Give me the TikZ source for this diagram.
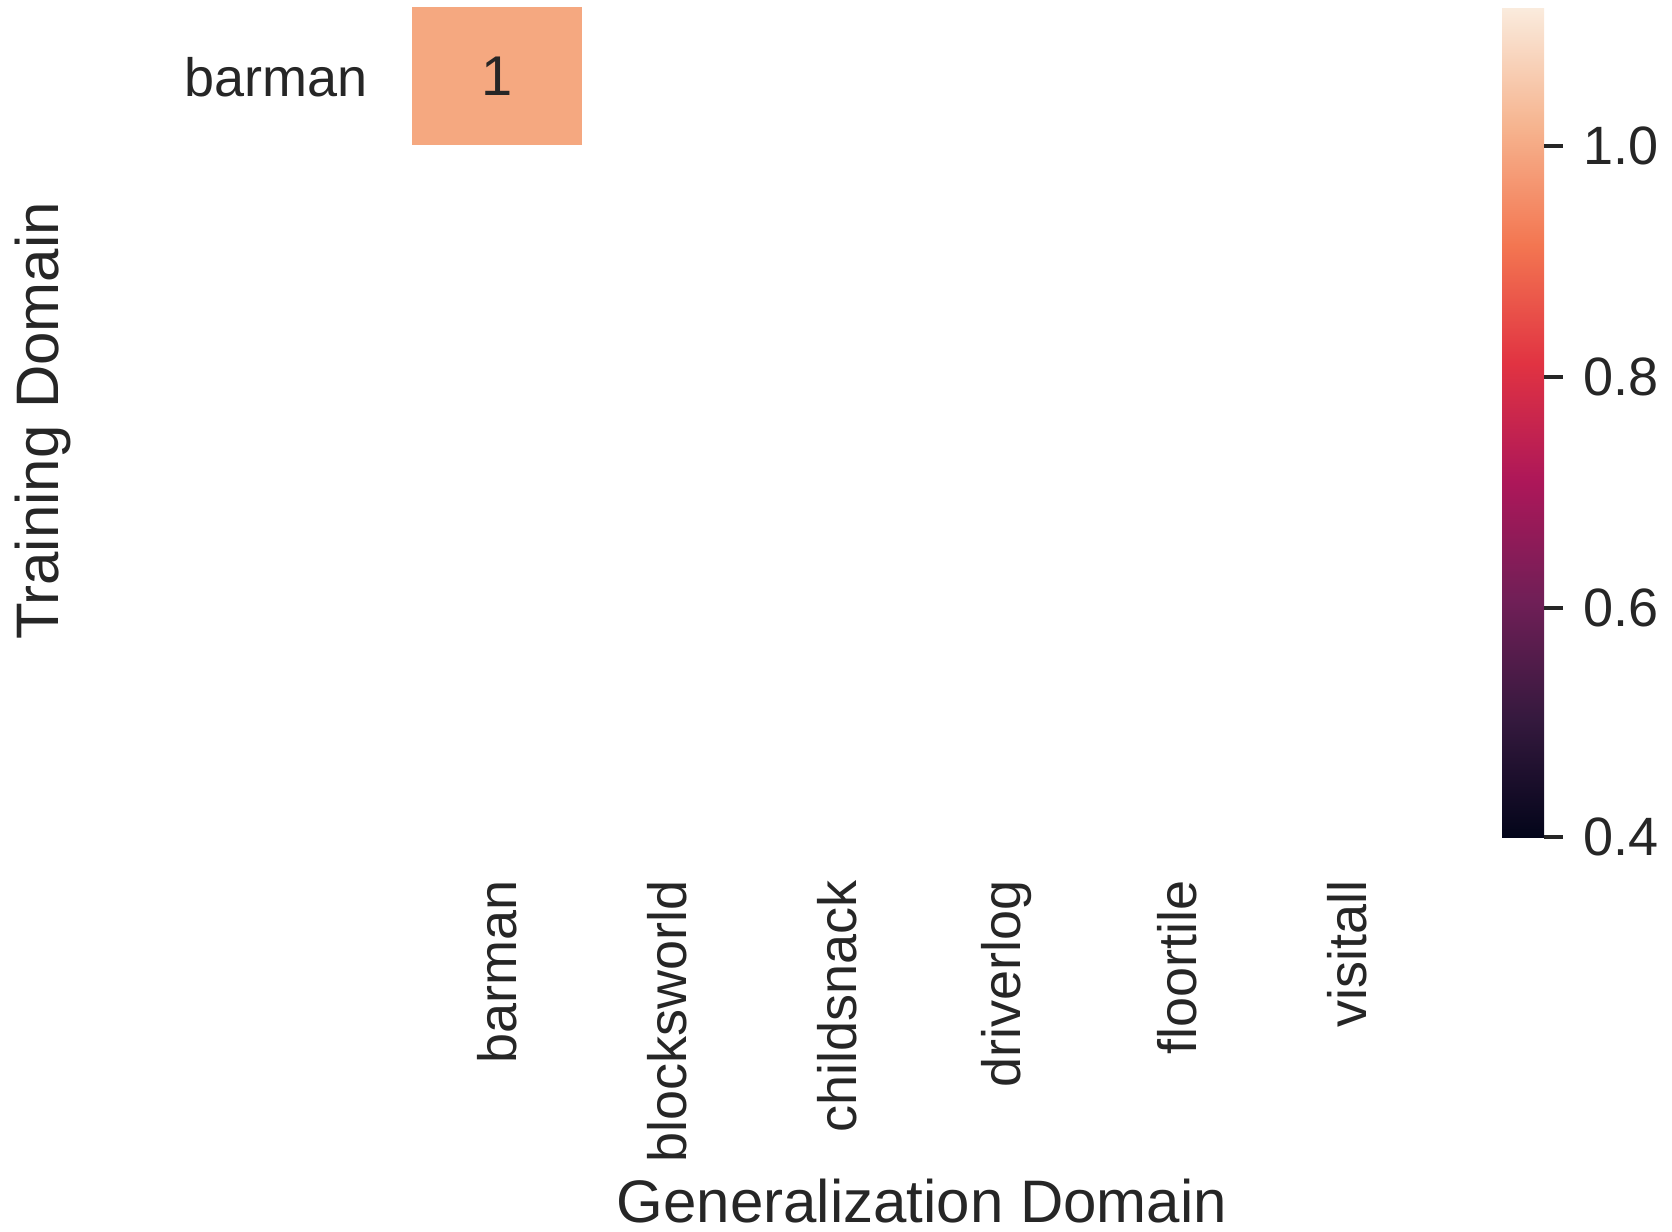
\documentclass[tikz,border=0pt]{standalone}
\usepackage{fontspec}
\setmainfont{Liberation Sans}
\usetikzlibrary{positioning}

% rocket colour map stops
\definecolor{rk0}{HTML}{03051A}
\definecolor{rk1}{HTML}{35193E}
\definecolor{rk2}{HTML}{701F57}
\definecolor{rk3}{HTML}{AD1759}
\definecolor{rk4}{HTML}{E13342}
\definecolor{rk5}{HTML}{F37651}
\definecolor{rk6}{HTML}{F6B48F}
\definecolor{rk7}{HTML}{FAEBDD}
\definecolor{cellfill}{RGB}{245,168,128}
\definecolor{ink}{HTML}{262626}

% bar runs from 0.4 (bottom) to 1.12 (top); inner band 25bp..75bp spans the bar
\pgfdeclareverticalshading{rocketbar}{100bp}{%
  color(0bp)=(rk0); color(25bp)=(rk0);
  color(32.14bp)=(rk1); color(39.29bp)=(rk2); color(46.43bp)=(rk3);
  color(53.57bp)=(rk4); color(60.71bp)=(rk5); color(67.86bp)=(rk6);
  color(75bp)=(rk7); color(100bp)=(rk7)}

\tikzset{
  ticklab/.style={font=\fontsize{27pt}{32pt}\selectfont, text=ink, inner sep=0pt},
  axlab/.style={font=\fontsize{30pt}{36pt}\selectfont, text=ink, inner sep=0pt},
  cellbox/.style={fill=cellfill, minimum width=85pt, minimum height=69pt,
    inner sep=0pt, font=\fontsize{28pt}{33pt}\selectfont, text=ink},
  cbtick/.style={draw=ink, line width=2pt},
}

\begin{document}
\begin{tikzpicture}[x=0.5pt, y=-0.5pt]
  \useasboundingbox (0,0) rectangle (1672,1232);

  % heat map cell
  \node[cellbox] (c11) at (497,76) {1};

  % row label
  \node[ticklab, anchor=east] (rbarman) at (368,77) {barman};

  % column labels
  \node[ticklab, rotate=90, anchor=east] (xbarman) at (497,880) {barman};
  \node[ticklab, rotate=90, anchor=east] (xblocks) at (667,880) {blocksworld};
  \node[ticklab, rotate=90, anchor=east] (xchild) at (837,880) {childsnack};
  \node[ticklab, rotate=90, anchor=east] (xdriver) at (1007,880) {driverlog};
  \node[ticklab, rotate=90, anchor=east] (xfloor) at (1177,880) {floortile};
  \node[ticklab, rotate=90, anchor=east] (xvisit) at (1347,880) {visitall};

  % axis titles
  \node[axlab, anchor=base] (xtitle) at (922,1222) {Generalization Domain};
  \node[axlab, rotate=90, anchor=base] (ytitle) at (58,421) {Training Domain};

  % colour bar
  \shade[shading=rocketbar] (1502,8) rectangle (1544,837);
  \foreach \v/\y in {1.0/146, 0.8/377, 0.6/608, 0.4/837}{
    \coordinate (t\y) at (1544,\y);
    \coordinate (u\y) at (1563,\y);
    \draw[cbtick] (t\y) -- (u\y);
    \node[ticklab, anchor=west] (l\y) at (1583,\y) {\v};
  }
\end{tikzpicture}
\end{document}
